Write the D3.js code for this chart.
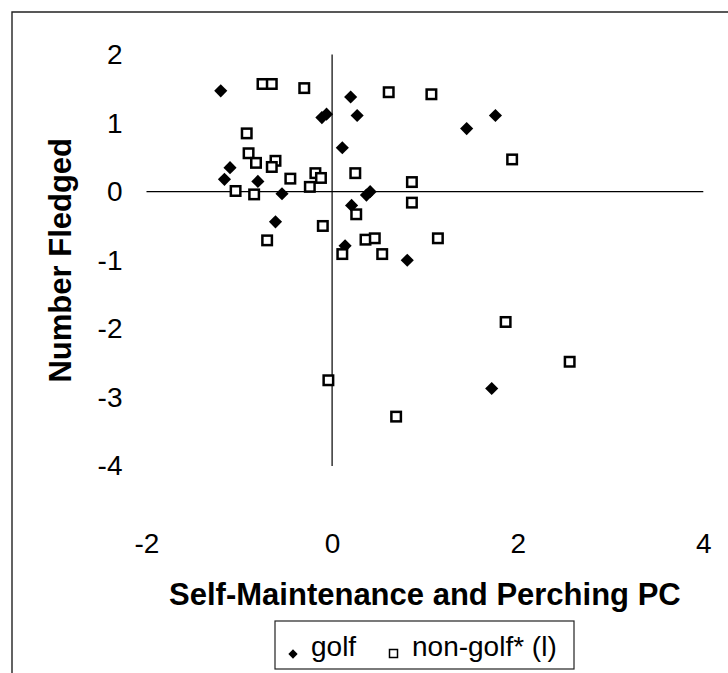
<!DOCTYPE html>
<html>
<head>
<meta charset="utf-8">
<script src="https://cdn.jsdelivr.net/npm/d3@7"></script>
<style>
  html, body { margin: 0; padding: 0; background: #fff; }
  svg { display: block; }
  text { font-family: "Liberation Sans", Arial, Helvetica, sans-serif; fill: #000; }
</style>
</head>
<body>
<svg id="chart" width="728" height="673"></svg>
<script>
// Golf territories: [self-maintenance & perching PC, number fledged]
const golfX = [-1.20, 0.20, -0.11, -0.06, 0.27, 0.11, -1.10, -1.16, -0.80, -0.54,
               0.37, 0.41, 0.21, -0.61, 1.45, 1.76, 0.81, 0.14, 1.72];
const golfY = [1.47, 1.38, 1.08, 1.13, 1.11, 0.64, 0.35, 0.18, 0.15, -0.03,
               -0.05, 0.00, -0.20, -0.44, 0.92, 1.11, -1.00, -0.79, -2.87];

// Non-golf territories
const nonGolfX = [-0.75, -0.65, -0.30, 0.61, 1.07, -0.92, -0.90, -0.82, -0.61, -0.65,
                  -0.45, -0.18, -0.12, -0.24, 0.25, -1.04, -0.84, 0.26, -0.10, -0.70,
                  0.36, 0.46, 1.94, 0.86, 0.86, 1.14, 0.54, 0.11, -0.04, 0.69,
                  1.87, 2.56];
const nonGolfY = [1.57, 1.57, 1.51, 1.45, 1.42, 0.85, 0.56, 0.42, 0.45, 0.36,
                  0.19, 0.27, 0.20, 0.07, 0.27, 0.01, -0.04, -0.33, -0.50, -0.71,
                  -0.70, -0.68, 0.47, 0.14, -0.16, -0.68, -0.91, -0.91, -2.75, -3.28,
                  -1.90, -2.48];

const xTicks = [-2, 0, 2, 4];
const yTicks = [2, 1, 0, -1, -2, -3, -4];
const xTitle = "Self-Maintenance and Perching PC";
const yTitle = "Number Fledged";
const legendLabels = ["golf", "non-golf* (l)"];

const svg = d3.select("#chart");

const x = d3.scaleLinear().domain([-2, 4]).range([146.5, 703.3]);
const y = d3.scaleLinear().domain([-4, 2]).range([466, 54.5]);

// outer frame (left and top edges)
svg.append("path")
  .attr("d", "M12,673 V12 H728")
  .attr("fill", "none")
  .attr("stroke", "#222")
  .attr("stroke-width", 1.4);

// zero lines crossing in the plot
svg.append("line")
  .attr("x1", x(-2)).attr("x2", x(4))
  .attr("y1", y(0)).attr("y2", y(0))
  .attr("stroke", "#000").attr("stroke-width", 1.2);
svg.append("line")
  .attr("x1", x(0)).attr("x2", x(0))
  .attr("y1", y(2)).attr("y2", y(-4))
  .attr("stroke", "#000").attr("stroke-width", 1.2);

// tick labels
const fmt = d => String(d);
const yAxis = svg.append("g")
  .attr("transform", `translate(${x(-2)},0)`)
  .call(d3.axisLeft(y).tickValues(yTicks).tickFormat(fmt).tickSize(0).tickPadding(24));
const xAxis = svg.append("g")
  .attr("transform", `translate(0,${y(-4)})`)
  .call(d3.axisBottom(x).tickValues(xTicks).tickFormat(fmt).tickSize(0).tickPadding(67));
[yAxis, xAxis].forEach(g => {
  g.select(".domain").remove();
  g.selectAll("text")
    .attr("fill", "#000")
    .style("font-family", '"Liberation Sans", Arial, sans-serif')
    .style("font-size", "28px");
});

// axis titles
svg.append("text")
  .attr("x", (x(-2) + x(4)) / 2)
  .attr("y", 605)
  .attr("text-anchor", "middle")
  .style("font-size", "31px")
  .style("font-weight", "bold")
  .text(xTitle);
svg.append("text")
  .attr("transform", `translate(71,${(y(2) + y(-4)) / 2}) rotate(-90)`)
  .attr("text-anchor", "middle")
  .style("font-size", "31px")
  .style("font-weight", "bold")
  .text(yTitle);

// markers
const diamond = d3.symbol().type(d3.symbolDiamond2).size(110);
const golf = golfX.map((v, i) => [v, golfY[i]]);
const nonGolf = nonGolfX.map((v, i) => [v, nonGolfY[i]]);

svg.append("g").selectAll("path")
  .data(golf)
  .join("path")
  .attr("d", diamond)
  .attr("transform", d => `translate(${x(d[0])},${y(d[1])})`)
  .attr("fill", "#000");

const sq = 9.5;
svg.append("g").selectAll("rect")
  .data(nonGolf)
  .join("rect")
  .attr("x", d => x(d[0]) - sq / 2)
  .attr("y", d => y(d[1]) - sq / 2)
  .attr("width", sq).attr("height", sq)
  .attr("fill", "#fff")
  .attr("stroke", "#000")
  .attr("stroke-width", 2.5);

// legend
const lg = svg.append("g");
lg.append("rect")
  .attr("x", 275).attr("y", 621)
  .attr("width", 299).attr("height", 48)
  .attr("fill", "#fff")
  .attr("stroke", "#222").attr("stroke-width", 1.2);
lg.append("path")
  .attr("d", d3.symbol().type(d3.symbolDiamond2).size(55))
  .attr("transform", "translate(293,654)")
  .attr("fill", "#000");
lg.append("text")
  .attr("x", 311).attr("y", 656)
  .style("font-size", "28px")
  .text(legendLabels[0]);
lg.append("rect")
  .attr("x", 389.5).attr("y", 649.5)
  .attr("width", 8).attr("height", 8)
  .attr("fill", "#fff").attr("stroke", "#000").attr("stroke-width", 1.5);
lg.append("text")
  .attr("x", 412).attr("y", 656)
  .style("font-size", "28px")
  .text(legendLabels[1]);
</script>
</body>
</html>
